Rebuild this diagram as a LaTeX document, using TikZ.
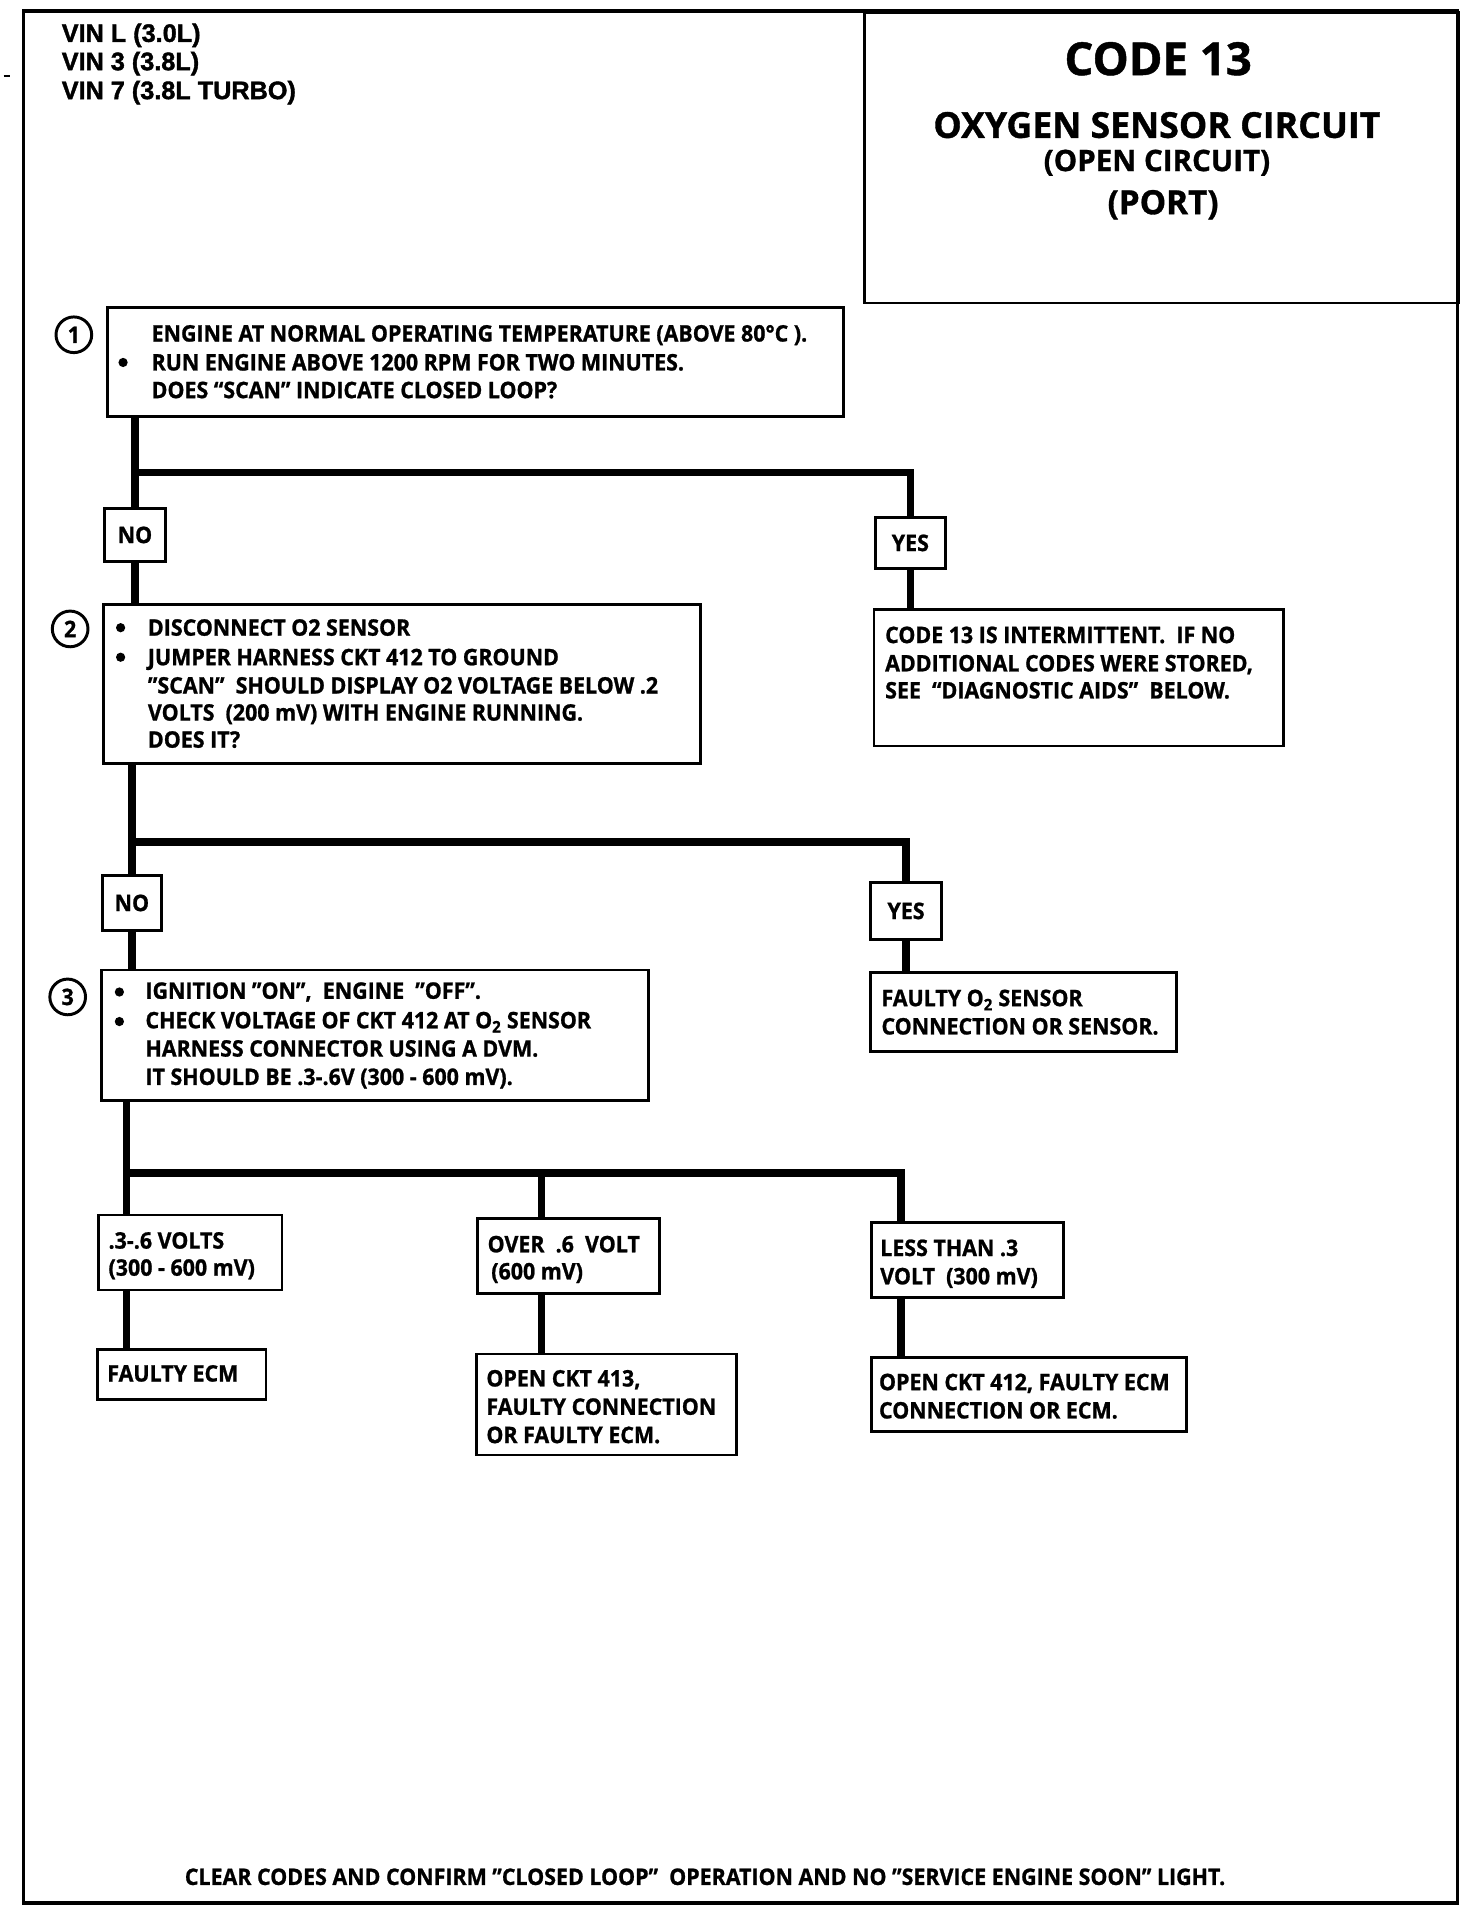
\documentclass[tikz,border=0pt]{standalone}
\usepackage{fontspec}
\newfontfamily\bodyf{Open Sans}[FakeStretch=0.94,FakeBold=1]
\newfontfamily\titlef{Open Sans}[FakeBold=1]
\newfontfamily\vinf{Liberation Sans}[FakeBold=1.5]
\newcommand\bodyfont{\bodyf\bfseries\fontsize{18.5}{22}\selectfont}
\newcommand\mkbox[5]{\node[box, minimum width={#4-#2}, minimum height={#5-#3}] (#1) at (#2,#3) {};}
\newcommand\tline[4]{\node[tx] (#1) at (#2,#3) {#4};}
\tikzset{
  box/.style={draw, line width=2.3pt, inner sep=0pt, anchor=north west},
  conn/.style={line width=6pt, line join=miter},
  tx/.style={anchor=base west, inner sep=0pt, font=\bodyfont},
  ctx/.style={anchor=center, inner sep=0pt, font=\bodyfont},
  bul/.style={circle, fill, inner sep=0pt, minimum size=7.5pt},
  num/.style={circle, draw, line width=2.4pt, minimum size=29pt, inner sep=0pt, font=\bodyfont},
  ttl/.style={anchor=base, inner sep=0pt},
  vin/.style={anchor=base west, inner sep=0pt, font=\vinf\bfseries\fontsize{20.5}{24}\selectfont},
}
\begin{document}
\begin{tikzpicture}[x=1pt,y=-1pt]
\useasboundingbox (0,0) rectangle (1196,1560);
\fill[white] (0,0) rectangle (1196,1560);
% outer frame
\draw[line width=2.8pt] (19,9) rectangle (1184,1546);
\draw[line width=1.5pt] (3,62) -- (8,62);
% title box
\mkbox{title}{701}{9}{1184}{245}
\node[ttl, font=\titlef\bfseries\fontsize{37}{40}\selectfont] (t0) at (941,61) {CODE 13};
\node[ttl, font=\titlef\bfseries\fontsize{29}{32}\selectfont] (t1) at (940,112) {OXYGEN SENSOR CIRCUIT};
\node[ttl, font=\titlef\bfseries\fontsize{24}{28}\selectfont] (t2) at (940,139) {(OPEN CIRCUIT)};
\node[ttl, font=\titlef\bfseries\fontsize{27}{30}\selectfont] (t3) at (945,174) {(PORT)};
% VIN
\node[vin] (v1) at (50,34) {VIN L (3.0L)};
\node[vin] (v2) at (50,57) {VIN 3 (3.8L)};
\node[vin] (v3) at (50,80.5) {VIN 7 (3.8L TURBO)};

% step 1
\mkbox{b1}{86}{249}{684}{337}
\node[num] (n1) at (60,272) {1};
\node[bul] (bl1) at (100,294.5) {};
\tline{b1a}{123}{277.5}{ENGINE AT NORMAL OPERATING TEMPERATURE (ABOVE 80°C ).}
\tline{b1b}{123}{301}{RUN ENGINE ABOVE 1200 RPM FOR TWO MINUTES.}
\tline{b1c}{123}{323.5}{DOES “SCAN” INDICATE CLOSED LOOP?}

\mkbox{no1}{84}{412}{133}{455}
\node[ctx] (no1t) at (no1.center) {NO};
\mkbox{yes1}{710}{419}{767}{461}
\node[ctx] (yes1t) at (yes1.center) {YES};

\mkbox{c13}{709}{494}{1042}{605}
\tline{c13a}{719}{522.5}{CODE 13 IS INTERMITTENT.\ \ IF NO}
\tline{c13b}{719}{545.5}{ADDITIONAL CODES WERE STORED,}
\tline{c13c}{719}{567.5}{SEE\ \ “DIAGNOSTIC AIDS”\ \ BELOW.}

% step 2
\mkbox{b2}{83}{490}{568}{619}
\node[num] (n2) at (57,511) {2};
\node[bul] (bl2) at (98,510) {};
\node[bul] (bl3) at (98,534) {};
\tline{b2a}{120}{516.5}{DISCONNECT O2 SENSOR}
\tline{b2b}{120}{540.5}{JUMPER HARNESS CKT 412 TO GROUND}
\tline{b2c}{120}{563.5}{”SCAN”\ \ SHOULD DISPLAY O2 VOLTAGE BELOW .2}
\tline{b2d}{120}{585.5}{VOLTS\ \ (200 mV) WITH ENGINE RUNNING.}
\tline{b2e}{120}{607.5}{DOES IT?}

\mkbox{no2}{82}{710}{130}{755}
\node[ctx] (no2t) at (no2.center) {NO};
\mkbox{yes2}{706}{716}{764}{762}
\node[ctx] (yes2t) at (yes2.center) {YES};

\mkbox{fo2}{706}{789}{955}{853}
\tline{fo2a}{716}{817.5}{FAULTY O\textsubscript{2} SENSOR}
\tline{fo2b}{716}{840.5}{CONNECTION OR SENSOR.}

% step 3
\mkbox{b3}{81}{787}{526}{893}
\node[num] (n3) at (55,810) {3};
\node[bul] (bl4) at (97,806) {};
\node[bul] (bl5) at (97,830) {};
\tline{b3a}{118}{811.5}{IGNITION ”ON”,\ \ ENGINE\ \ ”OFF”.}
\tline{b3b}{118}{835.5}{CHECK VOLTAGE OF CKT 412 AT O\textsubscript{2} SENSOR}
\tline{b3c}{118}{858.5}{HARNESS CONNECTOR USING A DVM.}
\tline{b3d}{118}{881.5}{IT SHOULD BE .3-.6V (300 - 600 mV).}

% results
\mkbox{r1}{79}{986}{228}{1047}
\tline{r1a}{88}{1014.5}{.3-.6 VOLTS}
\tline{r1b}{88}{1036.5}{(300 - 600 mV)}
\mkbox{r2}{387}{989}{535}{1050}
\tline{r2a}{396}{1017.5}{OVER\ \ .6\ \ VOLT}
\tline{r2b}{399}{1039.5}{(600 mV)}
\mkbox{r3}{707}{992}{863}{1053}
\tline{r3a}{715}{1020.5}{LESS THAN .3}
\tline{r3b}{715}{1043.5}{VOLT\ \ (300 mV)}

\mkbox{e1}{78}{1095}{215}{1136}
\tline{e1a}{87}{1122.5}{FAULTY ECM}
\mkbox{e2}{386}{1099}{597}{1181}
\tline{e2a}{395}{1126.5}{OPEN CKT 413,}
\tline{e2b}{395}{1149.5}{FAULTY CONNECTION}
\tline{e2c}{395}{1172.5}{OR FAULTY ECM.}
\mkbox{e3}{707}{1102}{963}{1162}
\tline{e3a}{714}{1129.5}{OPEN CKT 412, FAULTY ECM}
\tline{e3b}{714}{1152.5}{CONNECTION OR ECM.}

\tline{foot}{150}{1531.5}{CLEAR CODES AND CONFIRM ”CLOSED LOOP”\ \ OPERATION AND NO ”SERVICE ENGINE SOON” LIGHT.}

% connectors
\coordinate (j1) at (108.5,384);
\coordinate (j2) at (106,684);
\coordinate (j3) at (103,953);
\coordinate (d2) at (440,953);
\coordinate (d3) at (732,953);
\draw[conn] (no1.north |- b1.south) -- (no1.north);
\draw[conn] (j1) -| (yes1.north);
\draw[conn] (no1.south) -- (no1.south |- b2.north);
\draw[conn] (yes1.south) -- (yes1.south |- c13.north);
\draw[conn] (no2.north |- b2.south) -- (no2.north);
\draw[conn] (j2) -| (yes2.north);
\draw[conn] (no2.south) -- (no2.south |- b3.north);
\draw[conn] (yes2.south) -- (yes2.south |- fo2.north);
\draw[conn] (j3 |- b3.south) -- (j3 |- r1.north);
\draw[conn] (j3) -- (d3) -- (d3 |- r3.north);
\draw[conn] (d2) -- (d2 |- r2.north);
\draw[conn] (j3 |- r1.south) -- (j3 |- e1.north);
\draw[conn] (d2 |- r2.south) -- (d2 |- e2.north);
\draw[conn] (d3 |- r3.south) -- (d3 |- e3.north);
\end{tikzpicture}
\end{document}
